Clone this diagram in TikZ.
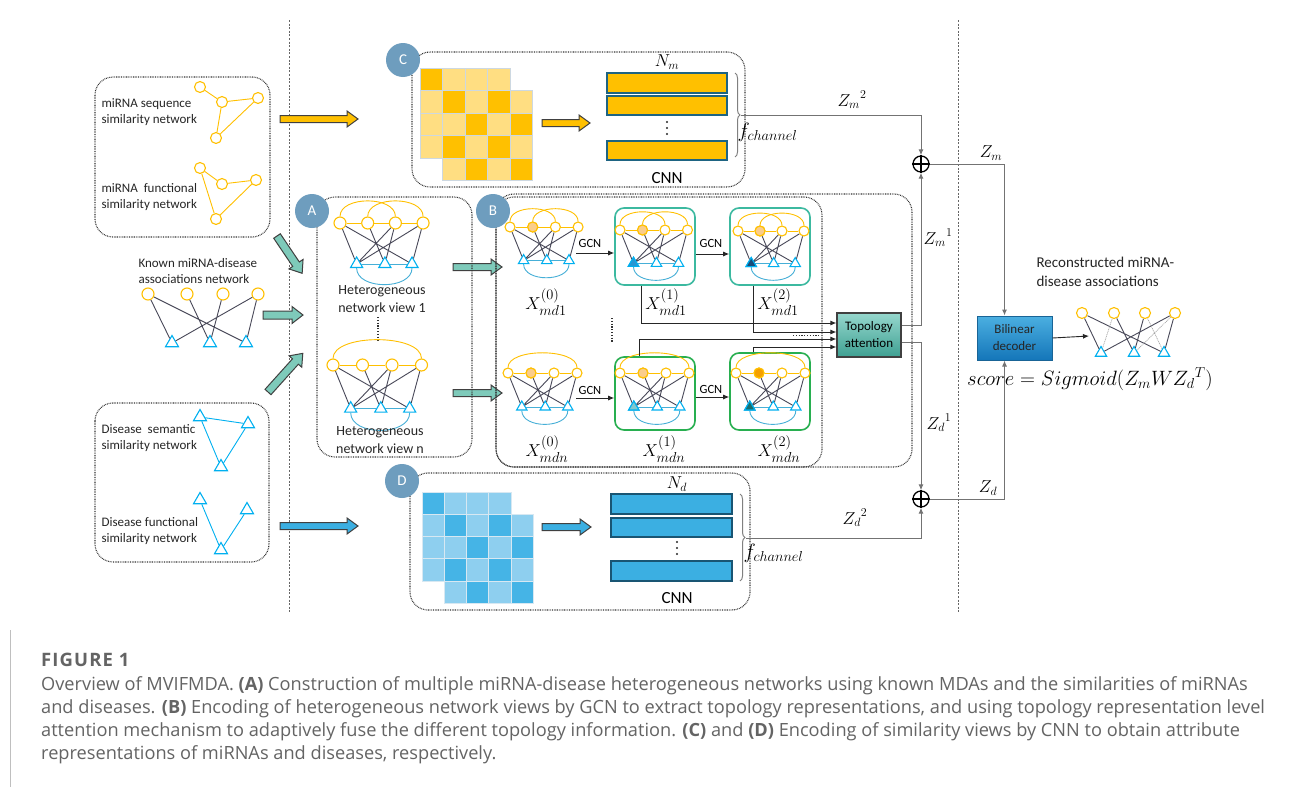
\documentclass[tikz,border=0pt]{standalone}
\usepackage{fontspec}
\setmainfont{Carlito}
\newfontfamily\capfont{Open Sans}
\usetikzlibrary{shapes.geometric,arrows.meta,calc,decorations.pathreplacing}
\definecolor{gold}{RGB}{255,192,0}
\definecolor{goldlt}{RGB}{255,222,130}
\definecolor{gridC}{RGB}{205,216,225}
\definecolor{cyanT}{RGB}{0,176,240}
\definecolor{arcB}{RGB}{70,175,215}
\definecolor{edgeD}{RGB}{72,72,88}
\definecolor{letterC}{RGB}{110,157,190}
\definecolor{tealA}{RGB}{126,202,186}
\definecolor{blueA}{RGB}{59,175,226}
\definecolor{blueD}{RGB}{69,180,230}
\definecolor{blueL}{RGB}{142,207,239}
\definecolor{gridD}{RGB}{215,232,242}
\definecolor{barEdgeC}{RGB}{30,100,130}
\definecolor{barEdgeD}{RGB}{25,85,115}
\definecolor{boxOne}{RGB}{60,185,160}
\definecolor{boxTwo}{RGB}{40,175,80}
\definecolor{lineG}{RGB}{115,115,115}
\definecolor{capgray}{RGB}{100,100,100}
\definecolor{orangeL}{RGB}{250,205,140}
\definecolor{orangeD}{RGB}{245,160,0}
\definecolor{triA}{RGB}{40,150,210}
\definecolor{triB}{RGB}{25,75,120}
\definecolor{triC}{RGB}{130,200,205}
\definecolor{triD}{RGB}{25,110,110}

\tikzset{
 dotbox/.style={draw=black!80, line width=1.1pt, dash pattern=on 0.8pt off 0.9pt, rounded corners=18pt},
 ycirc/.style={circle, draw=gold, line width=1.1pt, minimum size=#1, inner sep=0pt},
 ycirc/.default=11pt,
 ctri/.style={regular polygon, regular polygon sides=3, draw=cyanT, line width=1.1pt, minimum size=#1, inner sep=0pt},
 ctri/.default=14pt,
 yedge/.style={draw=gold, line width=0.9pt},
 cedge/.style={draw=cyanT, line width=0.9pt},
 aedge/.style={draw=arcB, line width=0.9pt},
 dedge/.style={draw=edgeD, line width=0.9pt},
 lightedge/.style={draw=gray!70, line width=0.7pt, dash pattern=on 1pt off 0.8pt},
 letter/.style={circle, fill=letterC, text=white, minimum size=34pt, inner sep=0pt, font=\fontsize{15}{15}\selectfont},
 lbl/.style={align=left, font=\fontsize{13}{16}\selectfont, text=black!85},
 hlbl/.style={align=center, font=\fontsize{14}{18}\selectfont, text=black!85},
 conn/.style={draw=black!85, line width=0.9pt, -{Latex[length=6pt,width=5pt]}},
 zl/.style={draw=lineG, line width=1pt, -{Latex[length=6pt,width=5pt]}},
 zlbl/.style={font=\fontsize{17}{18}\selectfont},
 xlbl/.style={font=\fontsize{19}{20}\selectfont},
 gcnl/.style={font=\fontsize{12.5}{12}\selectfont},
 cnnl/.style={font=\fontsize{17}{17}\selectfont},
 plusnode/.style={circle, draw=black, line width=1.3pt, minimum size=16pt, inner sep=0pt},
 gbox/.style={draw=#1, line width=1.6pt, rounded corners=9pt, minimum width=80pt},
 brc/.style={decorate, decoration={brace, amplitude=5pt}, draw=gray, line width=1pt},
 vdash/.style={draw=black!60, line width=0.8pt, dash pattern=on 2pt off 1.6pt},
 captxt/.style={font=\capfont\fontsize{18.2}{20}\selectfont, text=capgray, anchor=base west, inner sep=0pt},
}

% heterogeneous network: name, x, y (first circle), spacing, arc type, circle size
\newcommand\hnet[6]{%
\begin{scope}[shift={(#2,#3)},x=#4pt,y=-#4pt]
 \node[ycirc=#6] (#1c1) at (0,0) {};
 \node[ycirc=#6] (#1c2) at (1,0) {};
 \node[ycirc=#6] (#1c3) at (2,0) {};
 \node[ycirc=#6] (#1c4) at (3,0) {};
 \node[ctri=#6+2pt] (#1t1) at (0.6,1.48) {};
 \node[ctri=#6+2pt] (#1t2) at (1.62,1.48) {};
 \node[ctri=#6+2pt] (#1t3) at (2.6,1.48) {};
 \draw[yedge] (#1c1)--(#1c2) (#1c2)--(#1c3) (#1c3)--(#1c4);
 \draw[aedge] (#1t1)--(#1t2) (#1t2)--(#1t3);
 \draw[aedge] (#1t1.south) .. controls +(0,0.8) and +(0,0.8) .. (#1t3.south);
 \ifnum#5=1
  \draw[yedge] (#1c1.north) .. controls +(0,-0.75) and +(0,-0.75) .. (#1c3.north);
  \draw[yedge] (#1c2.north) .. controls +(0,-0.75) and +(0,-0.75) .. (#1c4.north);
 \else
  \draw[yedge] (#1c1.north) .. controls +(0,-0.85) and +(0,-0.85) .. (#1c4.north);
 \fi
 \draw[dedge] (#1c1)--(#1t1) (#1c1)--(#1t3) (#1c2)--(#1t2) (#1c3)--(#1t1) (#1c3)--(#1t2) (#1c4)--(#1t1) (#1c4)--(#1t3);
\end{scope}}

% block arrow: x, y, angle, length, fill, half shaft
\newcommand\blockarr[6]{%
\begin{scope}[shift={(#1,#2)},rotate=#3]
 \filldraw[fill=#5, draw=black!75, line width=1pt] (0,-#6) -- (#4-11,-#6) -- (#4-11,-#6-4.5) -- (#4,0) -- (#4-11,#6+4.5) -- (#4-11,#6) -- (0,#6) -- cycle;
\end{scope}}

% two overlapping matrices: x, y, cell, dark, light, grid
\newcommand\mats[6]{%
 \foreach \i in {0,1,2,3}{\foreach \j in {0,1,2,3}{
   \ifnum\i=0 \ifnum\j=0 \def\cf{#4}\else\def\cf{#5}\fi\else\def\cf{#5}\fi
   \filldraw[fill=\cf,draw=#6,line width=0.9pt] ({#1+\i*#3},{#2+\j*#3}) rectangle ++(#3,#3);
 }}
 \foreach \i in {0,1,2,3}{\foreach \j in {0,1,2,3}{
   \pgfmathtruncatemacro\pp{mod(\i+\j,2)}
   \ifnum\pp=0 \def\cf{#4}\else\def\cf{#5}\fi
   \filldraw[fill=\cf,draw=#6,line width=0.9pt] ({#1+#3+\i*#3},{#2+#3+\j*#3}) rectangle ++(#3,#3);
 }}
}
% three vertical dots
\newcommand\vdotsat[2]{%
 \fill[black!85] (#1,#2-6) circle[radius=1.1] (#1,#2) circle[radius=1.1] (#1,#2+6) circle[radius=1.1];}

\begin{document}
\begin{tikzpicture}[x=1pt,y=-1pt]
\fill[white] (0,0) rectangle (1293,787);
\useasboundingbox (0,0) rectangle (1293,787);

% separators
\draw[vdash] (289,20) -- (289,612);
\draw[vdash] (958,20) -- (958,612);

% ---------- left column ----------
\draw[dotbox] (95,77) rectangle (270,237);
\node[lbl, anchor=west] (tseq) at (98,112) {miRNA sequence\\similarity network};
\node[lbl, anchor=west] (tfun) at (98,197) {miRNA\ \ functional\\similarity network};
\node[ycirc] (s1) at (200,87) {};
\node[ycirc] (s2) at (222,102) {};
\node[ycirc] (s3) at (258,98) {};
\node[ycirc] (s4) at (216,138) {};
\draw[yedge] (s1)--(s2) (s2)--(s3) (s3)--(s4) (s2)--(s4);
\node[ycirc] (f1) at (200,168) {};
\node[ycirc] (f2) at (222,184) {};
\node[ycirc] (f3) at (256,180) {};
\node[ycirc] (f4) at (216,219) {};
\draw[yedge] (f1)--(f2) (f2)--(f3) (f3)--(f4) (f1)--(f4);

\node[lbl, anchor=west] (tknown) at (135,271) {Known miRNA-disease\\associations network};
\node[ycirc=12pt] (k1) at (148,294) {};
\node[ycirc=12pt] (k2) at (187,294) {};
\node[ycirc=12pt] (k3) at (223,294) {};
\node[ycirc=12pt] (k4) at (258,294) {};
\node[ctri=15pt] (kt1) at (172,343) {};
\node[ctri=15pt] (kt2) at (210,343) {};
\node[ctri=15pt] (kt3) at (246,343) {};
\draw[dedge] (k1)--(kt1) (k1)--(kt3) (k2)--(kt2) (k3)--(kt2) (k4)--(kt1) (k4)--(kt3);

\draw[dotbox] (95,403) rectangle (269,562);
\node[lbl, anchor=west] (tsem) at (98,438) {Disease\ \ semantic\\similarity network};
\node[lbl, anchor=west] (tdf) at (98,531) {Disease functional\\similarity network};
\node[ctri=15pt] (d1) at (200,417) {};
\node[ctri=15pt] (d2) at (248,424) {};
\node[ctri=15pt] (d3) at (221,467) {};
\draw[cedge] (d1)--(d2) (d1)--(d3) (d2)--(d3);
\node[ctri=15pt] (e1) at (200,500) {};
\node[ctri=15pt] (e2) at (247,510) {};
\node[ctri=15pt] (e3) at (221,550) {};
\draw[cedge] (e1)--(e3) (e2)--(e3);

% block arrows
\blockarr{280}{119}{0}{78}{gold}{3.5}
\blockarr{280}{526}{0}{78}{blueA}{3.5}
\blockarr{277}{236}{-56}{45}{tealA}{4}
\blockarr{263}{315}{0}{40}{tealA}{4}
\blockarr{268}{392}{48}{52}{tealA}{4}
\blockarr{453}{267}{0}{49}{tealA}{3.5}
\blockarr{453}{393}{0}{49}{tealA}{3.5}
\blockarr{542}{123}{0}{48}{gold}{3.5}
\blockarr{542}{527}{0}{49}{blueA}{3.5}

% ---------- panel C ----------
\draw[dotbox] (412,52) rectangle (745,187);
\mats{420}{68}{22.5}{gold}{goldlt}{gridC}
\filldraw[fill=gold, draw=barEdgeC, line width=1.3pt] (607,73) rectangle (727,93);
\filldraw[fill=gold, draw=barEdgeC, line width=1.3pt] (607,96) rectangle (727,115);
\filldraw[fill=gold, draw=barEdgeC, line width=1.3pt] (607,141) rectangle (727,160);
\node[font=\fontsize{18}{18}\selectfont] (nm) at (667,62) {$N_m$};
\vdotsat{667}{128}
\node[cnnl] (cnnc) at (667,178) {CNN};
\draw[brc] (735,73) -- (735,157);
\coordinate (bC) at (741,115);
\node[font=\fontsize{21}{22}\selectfont, anchor=west] (fchc) at (734,132) {$f_{channel}$};

% ---------- panel D ----------
\draw[dotbox] (410,473) rectangle (750,610);
\mats{422}{492}{22.3}{blueD}{blueL}{gridD}
\filldraw[fill=blueA, draw=barEdgeD, line width=1.3pt] (611,494) rectangle (732,514);
\filldraw[fill=blueA, draw=barEdgeD, line width=1.3pt] (611,518) rectangle (732,537);
\filldraw[fill=blueA, draw=barEdgeD, line width=1.3pt] (611,561) rectangle (732,581);
\node[font=\fontsize{18}{18}\selectfont] (nd) at (677,484) {$N_d$};
\vdotsat{677}{548}
\node[cnnl] (cnnd) at (677,598) {CNN};
\draw[brc] (740,494) -- (740,581);
\coordinate (bD) at (746,538);
\node[font=\fontsize{21}{22}\selectfont, anchor=west] (fchd) at (740,553) {$f_{channel}$};

% ---------- panel A ----------
\draw[dotbox] (317,197) rectangle (472,457);
\hnet{A1}{340}{223}{27.7}{1}{12pt}
\node[hlbl] (ta1) at (382,299) {Heterogeneous\\network view 1};
\draw[line width=1.8pt, dash pattern=on 1.2pt off 1.6pt, black!80] (378,317) -- (378,341);
\hnet{An}{333}{365}{29.5}{2}{12pt}
\node[hlbl] (tan) at (380,440) {Heterogeneous\\network view n};

% ---------- panel B ----------
\draw[dotbox] (496,194) rectangle (912,467);
\draw[dotbox] (496,197) rectangle (822,467);
\node[gbox=boxOne, minimum height=77pt] (bx11) at (655,246.5) {};
\node[gbox=boxOne, minimum height=77pt] (bx12) at (770,246.5) {};
\node[gbox=boxTwo, minimum height=73pt] (bx21) at (655,393.5) {};
\node[gbox=boxTwo, minimum height=77pt] (bx22) at (770,391.5) {};
\hnet{B1}{510}{227}{22.7}{1}{10pt}
\hnet{B2}{508}{373}{23}{2}{10pt}
\hnet{C1}{620}{230}{22.5}{1}{10pt}
\hnet{C2}{738}{231}{22}{1}{10pt}
\hnet{D1}{620}{373}{23}{2}{10pt}
\hnet{D2}{736}{373}{23}{2}{10pt}
\node[ycirc=10pt, fill=orangeL] at (B1c2) {};
\node[ycirc=10pt, fill=orangeL] at (B2c2) {};
\node[ycirc=10pt, fill=orangeL] at (C1c2) {};
\node[ycirc=10pt, fill=orangeL] at (C2c2) {};
\node[ycirc=10pt, fill=orangeL] at (D1c2) {};
\node[ycirc=10pt, fill=orangeD] at (D2c2) {};
\node[ctri=12pt, fill=triA] at (C1t1) {};
\node[ctri=12pt, fill=triB] at (C2t1) {};
\node[ctri=12pt, fill=triC] at (D1t1) {};
\node[ctri=12pt, fill=triD] at (D2t1) {};

\node[xlbl] (x0a) at (546,302) {$X_{md1}^{(0)}$};
\node[xlbl] (x1a) at (666,302) {$X_{md1}^{(1)}$};
\node[xlbl] (x2a) at (778,302) {$X_{md1}^{(2)}$};
\node[xlbl] (x0n) at (547,449) {$X_{mdn}^{(0)}$};
\node[xlbl] (x1n) at (664,449) {$X_{mdn}^{(1)}$};
\node[xlbl] (x2n) at (779,449) {$X_{mdn}^{(2)}$};

\draw[conn] ($(bx11.west)+(-38,6.5)$) -- ($(bx11.west)+(0,6.5)$);
\node[gcnl] at (590,243) {GCN};
\draw[conn] ($(bx11.east)+(0,7.5)$) -- ($(bx12.west)+(0,7.5)$);
\node[gcnl] at (711,243) {GCN};
\draw[conn] ($(bx21.west)+(-38,4.5)$) -- ($(bx21.west)+(0,4.5)$);
\node[gcnl] at (590,390) {GCN};
\draw[conn] ($(bx21.east)+(0,3.5)$) -- ($(bx22.west)+(0,5.5)$);
\node[gcnl] at (711,389) {GCN};
\draw[line width=1.8pt, dash pattern=on 1.2pt off 1.6pt, black!80] (612,318) -- (612,342);

% topology attention
\node[draw=black!75, line width=1.2pt, top color={rgb,255:red,150;green,215;blue,205}, bottom color={rgb,255:red,62;green,160;blue,146}, minimum width=64pt, minimum height=44pt, inner sep=1pt, align=center, font=\fontsize{13}{17}\selectfont] (topo) at (869,335) {Topology\\attention};
\draw[conn] ($(bx11.south west)+(27,0)$) |- ($(topo.west)+(0,-12)$);
\draw[conn] ($(bx12.south west)+(24,0)$) |- ($(topo.west)+(0,-3)$);
\draw[conn] ($(bx21.north west)+(25,0)$) |- ($(topo.west)+(0,4)$);
\draw[conn] ($(bx22.north west)+(24,0)$) |- ($(topo.west)+(0,12)$);
\draw[line width=1.8pt, dash pattern=on 1.2pt off 1.6pt, black!80] (793,335.5) -- (819,335.5);

% ---------- fusion ----------
\node[plusnode] (plusm) at (921,164) {};
\draw[line width=1.3pt] (plusm.north)--(plusm.south) (plusm.west)--(plusm.east);
\node[plusnode] (plusd) at (921,499) {};
\draw[line width=1.3pt] (plusd.north)--(plusd.south) (plusd.west)--(plusd.east);

\node[draw={rgb,255:red,25;green,100;blue,150}, line width=1pt, top color={rgb,255:red,75;green,175;blue,225}, bottom color={rgb,255:red,20;green,118;blue,185}, minimum width=75pt, minimum height=44pt, inner sep=1pt, align=center, font=\fontsize{13}{17}\selectfont, text=black!85] (dec) at (1014.5,338) {Bilinear\\decoder};

\draw[zl] (bC) -| (plusm.north);
\draw[zl] (bD) -| (plusd.south);
\draw[zl] ($(topo.east)+(0,-10)$) -| (plusm.south);
\draw[zl] ($(topo.east)+(0,7)$) -| (plusd.north);
\draw[zl] (plusm.east) -| ($(dec.north)+(-10,0)$);
\draw[zl] (plusd.east) -| ($(dec.south)+(-10,0)$);

\node[zlbl] (zm2) at (852,100) {${Z_m}^{2}$};
\node[zlbl] (zm1) at (938,238) {${Z_m}^{1}$};
\node[zlbl] (zd1) at (939,423) {${Z_d}^{1}$};
\node[zlbl] (zd2) at (855,518) {${Z_d}^{2}$};
\node[zlbl] (zm) at (991,153) {$Z_m$};
\node[zlbl] (zd) at (988,488) {$Z_d$};

% reconstructed network
\coordinate (rin) at (1089,336);
\draw[conn] (dec.east) -- (rin);
\node[hlbl, font=\fontsize{15}{19}\selectfont, align=left, anchor=west] (trec) at (1033,272) {Reconstructed miRNA-\\disease associations};
\node[ycirc=11pt] (r1) at (1082,313) {};
\node[ycirc=11pt] (r2) at (1114,313) {};
\node[ycirc=11pt] (r3) at (1145,313) {};
\node[ycirc=11pt] (r4) at (1175,313) {};
\node[ctri=13pt] (rt1) at (1101,353) {};
\node[ctri=13pt] (rt2) at (1134,353) {};
\node[ctri=13pt] (rt3) at (1164,353) {};
\draw[dedge] (r1)--(rt1) (r1)--(rt3) (r2)--(rt2) (r3)--(rt2) (r4)--(rt1) (r4)--(rt3);
\draw[lightedge] (r2)--(rt1) (r3)--(rt3) (r4)--(rt2);
\node[font=\fontsize{20}{20}\selectfont] (score) at (1090,379) {$score = Sigmoid(Z_m W {Z_d}^{T})$};

% panel letters
\node[letter] (lA) at (312,211) {A};
\node[letter] (lB) at (493,211) {B};
\node[letter] (lC) at (403,60) {C};
\node[letter] (lD) at (402,481) {D};

% ---------- caption ----------
\draw[gray!50, line width=0.8pt] (10,630) -- (10,787);
\node[captxt, font=\capfont\bfseries\fontsize{18.5}{20}\selectfont\addfontfeature{LetterSpace=6}] (fig) at (41,666) {FIGURE 1};
\node[captxt] (c1) at (41,690) {Overview of MVIFMDA. \textbf{(A)} Construction of multiple miRNA-disease heterogeneous networks using known MDAs and the similarities of miRNAs};
\node[captxt] (c2) at (41,713) {and diseases. \textbf{(B)} Encoding of heterogeneous network views by GCN to extract topology representations, and using topology representation level};
\node[captxt] (c3) at (41,736) {attention mechanism to adaptively fuse the different topology information. \textbf{(C)} and \textbf{(D)} Encoding of similarity views by CNN to obtain attribute};
\node[captxt] (c4) at (41,759) {representations of miRNAs and diseases, respectively.};
\end{tikzpicture}
\end{document}
